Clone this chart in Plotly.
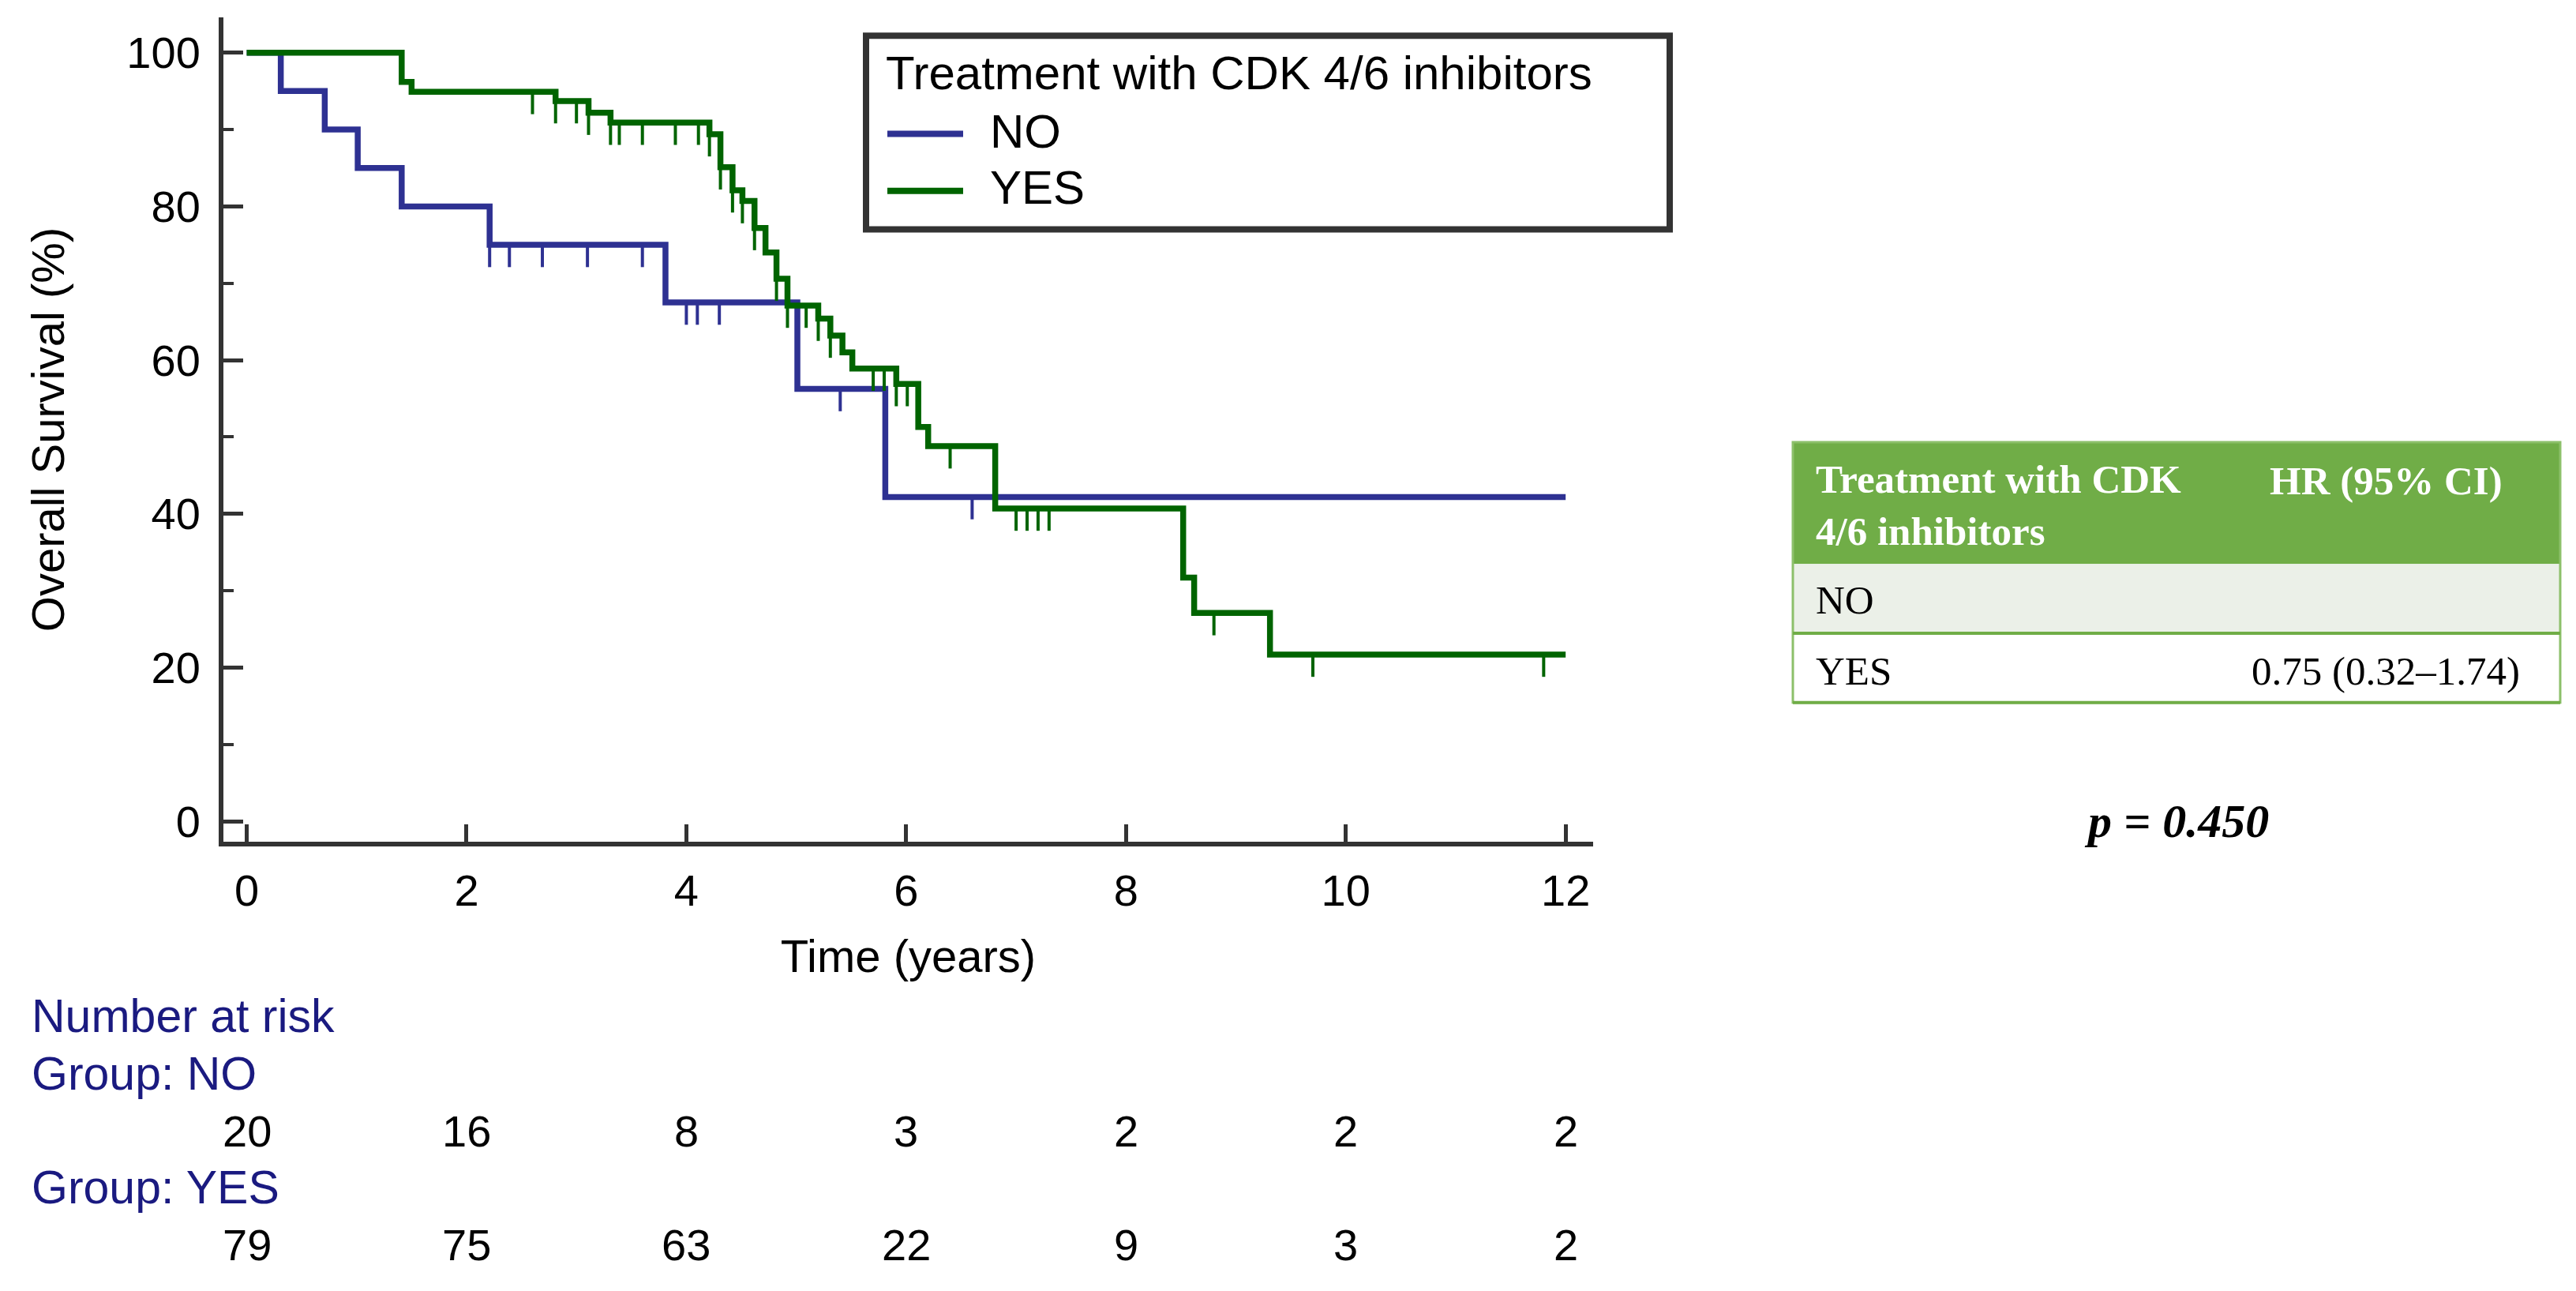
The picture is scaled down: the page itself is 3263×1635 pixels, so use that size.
import numpy as np
import plotly.graph_objects as go

W, H = 3263, 1635

# ---------------- data ----------------
groups = ["NO", "YES"]
legend_title = "Treatment with CDK 4/6 inhibitors"

no_times = [0, 0.31, 0.71, 1.01, 1.41, 2.21, 3.81, 5.01, 5.81, 12.0]
no_surv = [100, 95, 90, 85, 80, 75, 67.5, 56.25, 42.19, 42.19]
no_censor = [2.21, 2.39, 2.69, 3.10, 3.60, 4.00, 4.10, 4.30, 5.40, 6.60]

yes_times = [0, 1.41, 1.50, 2.81, 3.11, 3.31, 4.21, 4.31, 4.42, 4.51, 4.62, 4.72,
             4.82, 4.92, 5.20, 5.31, 5.42, 5.51, 5.91, 6.11, 6.20, 6.81, 8.52,
             8.62, 9.31, 12.0]
yes_surv = [100, 96.2, 94.9, 93.7, 92.2, 90.9, 89.4, 85.1, 82.1, 80.7, 77.2, 74.0,
            70.6, 67.1, 65.4, 63.2, 61.0, 58.9, 56.9, 51.3, 48.8, 40.7, 31.7,
            27.1, 21.7, 21.7]
yes_censor = [2.60, 2.81, 3.00, 3.11, 3.31, 3.39, 3.60, 3.90, 4.11, 4.21, 4.31,
              4.42, 4.51, 4.62, 4.82, 4.92, 5.09, 5.20, 5.31, 5.70, 5.80, 5.91,
              6.01, 6.40, 7.00, 7.10, 7.20, 7.30, 8.80, 9.70, 11.80]

x_ticks = [0, 2, 4, 6, 8, 10, 12]
y_ticks = [0, 20, 40, 60, 80, 100]
y_minor = [10, 30, 50, 70, 90]

risk_no = [20, 16, 8, 3, 2, 2, 2]
risk_yes = [79, 75, 63, 22, 9, 3, 2]

table_header = ["Treatment with CDK<br>4/6 inhibitors", "HR (95% CI)"]
table_rows = [["NO", ""], ["YES", "0.75 (0.32\u20131.74)"]]
p_text = "p = 0.450"

# ---------------- styles ----------------
BLUE = "#2e3192"
GREEN = "#006400"
AXC = "#333333"
NAVY = "#1a1a80"
SANS = "Liberation Sans, Arial, Helvetica, sans-serif"
SERIF = "Liberation Serif, Times New Roman, serif"
TH_GREEN = "#70AD47"


def px(x):
    return x / W


def py(y):
    return 1 - y / H


def step_at(times, surv, t):
    times = np.asarray(times)
    surv = np.asarray(surv)
    idx = np.searchsorted(times, t, side="right") - 1
    return surv[idx]


fig = go.Figure()

for name, t, s, c, col in [("NO", no_times, no_surv, no_censor, BLUE),
                           ("YES", yes_times, yes_surv, yes_censor, GREEN)]:
    fig.add_trace(go.Scatter(x=t, y=s, mode="lines", name=name,
                             line=dict(color=col, width=7.5, shape="hv"),
                             showlegend=False))
    cy = step_at(t, s, np.asarray(c))
    fig.add_trace(go.Scatter(x=c, y=cy, mode="markers", name=name + " censored",
                             marker=dict(size=1, color="rgba(0,0,0,0)"),
                             error_y=dict(type="constant", symmetric=False, value=0,
                                          valueminus=2.9, width=0, thickness=4,
                                          color=col),
                             showlegend=False))

fig.update_layout(
    width=W, height=H,
    margin=dict(l=0, r=0, t=0, b=0),
    paper_bgcolor="white", plot_bgcolor="white",
    font=dict(family=SANS, size=56, color="black"),
    showlegend=False,
)

fig.update_xaxes(
    domain=[px(283), px(2018)], range=[-0.212, 12.25],
    showline=True, linewidth=6, linecolor=AXC,
    ticks="inside", ticklen=22, tickwidth=5, tickcolor=AXC,
    tickvals=x_ticks, ticktext=[str(v) for v in x_ticks],
    tickfont=dict(size=56, family=SANS, color="black"),
    ticklabelstandoff=8,
    showgrid=False, zeroline=False,
    title=dict(text="Time (years)", font=dict(size=58, family=SANS, color="black"),
               standoff=34),
)
fig.update_yaxes(
    domain=[py(1070), py(22)], range=[-2.66, 104.6],
    showline=True, linewidth=6, linecolor=AXC,
    ticks="inside", ticklen=25, tickwidth=5, tickcolor=AXC,
    tickvals=y_ticks, ticktext=[str(v) for v in y_ticks],
    tickfont=dict(size=56, family=SANS, color="black"),
    ticklabelstandoff=12,
    minor=dict(tickvals=y_minor, ticks="inside", ticklen=13, tickwidth=4,
               tickcolor=AXC),
    showgrid=False, zeroline=False,
    title=dict(text="Overall Survival (%)", font=dict(size=58, family=SANS, color="black"),
               standoff=62),
)

shapes = []
ann = []

# ---- legend box (manual) ----
shapes.append(dict(type="rect", xref="paper", yref="paper",
                   x0=px(1097), x1=px(2115), y0=py(45.5), y1=py(291.5),
                   line=dict(color=AXC, width=8), fillcolor="white", layer="above"))
ann.append(dict(text=legend_title, x=px(1120), y=py(93), xref="paper", yref="paper",
                xanchor="left", yanchor="middle", showarrow=False,
                font=dict(size=60, family=SANS, color="black")))
for gname, col, yline, ytext in [(groups[0], BLUE, 170, 166.7), (groups[1], GREEN, 242.7, 238.3)]:
    shapes.append(dict(type="line", xref="paper", yref="paper",
                       x0=px(1124), x1=px(1220), y0=py(yline), y1=py(yline),
                       line=dict(color=col, width=8), layer="above"))
    ann.append(dict(text=gname, x=px(1252), y=py(ytext), xref="paper", yref="paper",
                    xanchor="left", yanchor="middle", showarrow=False,
                    font=dict(size=60, family=SANS, color="black")))

# ---- number at risk ----
for txt, yy in [("Number at risk", 1292), ("Group: " + groups[0], 1365), ("Group: " + groups[1], 1510)]:
    ann.append(dict(text=txt, x=px(38), y=py(yy), xref="paper", yref="paper",
                    xanchor="left", yanchor="middle", showarrow=False,
                    font=dict(size=59, family=SANS, color=NAVY)))
for vals, yy in [(risk_no, 1437.5), (risk_yes, 1582)]:
    for xv, v in zip(x_ticks, vals):
        ann.append(dict(text=str(v), x=xv, y=py(yy), xref="x", yref="paper",
                        xanchor="center", yanchor="middle", showarrow=False,
                        font=dict(size=56, family=SANS, color="black")))

# ---- HR table ----
TX0, TX1 = 2271, 3243
shapes.append(dict(type="rect", xref="paper", yref="paper", x0=px(TX0), x1=px(TX1),
                   y0=py(562), y1=py(717), fillcolor=TH_GREEN, line=dict(width=0)))
shapes.append(dict(type="rect", xref="paper", yref="paper", x0=px(TX0), x1=px(TX1),
                   y0=py(717), y1=py(805), fillcolor="#EBF0E8", line=dict(width=0)))
shapes.append(dict(type="rect", xref="paper", yref="paper", x0=px(TX0), x1=px(TX1),
                   y0=py(805), y1=py(893), fillcolor="white", line=dict(width=0)))
shapes.append(dict(type="rect", xref="paper", yref="paper", x0=px(TX0), x1=px(TX1),
                   y0=py(562), y1=py(893), fillcolor="rgba(0,0,0,0)",
                   line=dict(color="#8cc06a", width=3)))
for yy in [805, 893]:
    shapes.append(dict(type="line", xref="paper", yref="paper", x0=px(TX0), x1=px(TX1),
                       y0=py(yy), y1=py(yy), line=dict(color=TH_GREEN, width=4)))

ann.append(dict(text="<b>" + table_header[0] + "</b>", x=px(2298), y=py(642),
                xref="paper", yref="paper", xanchor="left", yanchor="middle", align="left",
                showarrow=False, font=dict(size=51, family=SERIF, color="white")))
ann.append(dict(text="<b>" + table_header[1] + "</b>", x=px(3022), y=py(611.7),
                xref="paper", yref="paper", xanchor="center", yanchor="middle",
                showarrow=False, font=dict(size=51, family=SERIF, color="white")))
for row, yy in zip(table_rows, [763, 853]):
    ann.append(dict(text=row[0], x=px(2298), y=py(yy), xref="paper", yref="paper",
                    xanchor="left", yanchor="middle", showarrow=False,
                    font=dict(size=51, family=SERIF, color="black")))
    if row[1]:
        ann.append(dict(text=row[1], x=px(3022), y=py(yy), xref="paper", yref="paper",
                        xanchor="center", yanchor="middle", showarrow=False,
                        font=dict(size=51, family=SERIF, color="black")))

ann.append(dict(text="<b><i>" + p_text + "</i></b>", x=px(2757), y=py(1044),
                xref="paper", yref="paper", xanchor="center", yanchor="middle",
                showarrow=False, font=dict(size=60, family=SERIF, color="black")))

fig.update_layout(shapes=shapes, annotations=ann)

fig.write_html("out.html", config={"displayModeBar": False},
               post_script="document.body.style.margin='0';")
